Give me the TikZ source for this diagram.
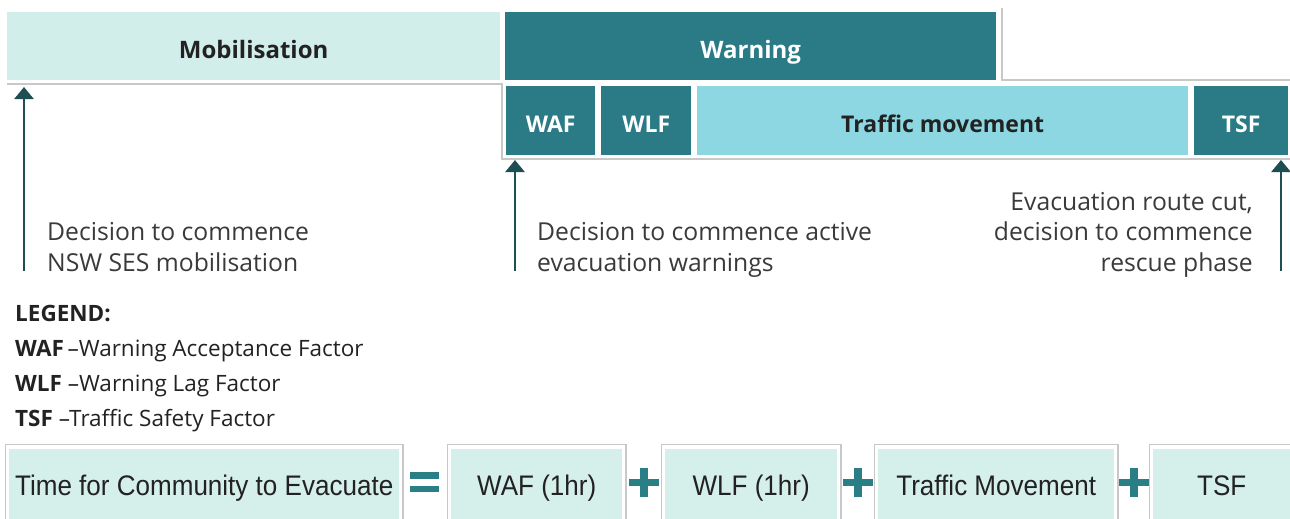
\documentclass[tikz,border=0pt]{standalone}
\usepackage{fontspec}
\setmainfont{Open Sans}
\newfontfamily\condfont[FakeStretch=0.92]{Liberation Sans}
\usetikzlibrary{arrows.meta,calc}

\definecolor{mobfill}{HTML}{D2EEEA}
\definecolor{warnteal}{HTML}{2B7B87}
\definecolor{trafficfill}{HTML}{8CD7E2}
\definecolor{arrowdark}{HTML}{1D4F52}
\definecolor{framegray}{HTML}{C8C8C8}
\definecolor{sumfill}{HTML}{D5EFEA}
\definecolor{bodytext}{HTML}{3A3A3A}
\definecolor{inktext}{HTML}{222222}
\definecolor{signteal}{HTML}{2A7F86}

\begin{document}
\begin{tikzpicture}[x=1pt,y=-1pt,
  phase/.style={inner sep=0pt, anchor=north west, minimum height=68pt,
    text height=24pt, text depth=0pt,
    font=\fontsize{24}{28}\selectfont\bfseries},
  darkphase/.style={phase, fill=warnteal, text=white},
  stage/.style={inner sep=0pt, anchor=north west, minimum height=69pt,
    text height=23.4pt, text depth=0pt,
    font=\fontsize{23}{28}\selectfont\bfseries},
  darkstage/.style={stage, fill=warnteal, text=white},
  frameline/.style={draw=framegray, line width=1.3pt},
  evarrow/.style={draw=arrowdark, line width=2.6pt,
    -{Triangle[width=19pt,length=12pt]}},
  desc/.style={inner sep=0pt, text=bodytext,
    font=\fontsize{24.7}{30.5}\selectfont},
  legendtext/.style={inner sep=0pt, anchor=north west, align=left, text=inktext,
    font=\fontsize{22.5}{35}\selectfont},
  sumbox/.style={inner sep=0pt, anchor=north west, fill=sumfill,
    minimum height=74pt, text=inktext, text height=20.3pt, text depth=0pt,
    font=\fontsize{28.3}{30}\condfont},
  sign/.style={fill=signteal}
]
\useasboundingbox[fill=white] (0,0) rectangle (1290,519);

% ---- phase bars ----
\node[phase, fill=mobfill, text=inktext, minimum width=493pt] (mob) at (7,12) {Mobilisation};
\node[darkphase, minimum width=491pt] (warn) at (505,12) {Warning};

% ---- stages of the warning phase ----
\node[darkstage, minimum width=89pt] (waf) at (506,86) {WAF};
\node[darkstage, minimum width=90pt] (wlf) at (601,86) {WLF};
\node[stage, fill=trafficfill, text=inktext, minimum width=491pt] (traffic) at (697,86) {Traffic movement};
\node[darkstage, minimum width=94pt] (tsf) at (1194,86) {TSF};

% ---- thin frame lines around the bars ----
\draw[frameline] (7,84) -- (502,84) -- (502,159) -- (1290,159);
\draw[frameline] (1002,8) -- (1002,80) -- (1290,80);

% ---- decision points ----
\coordinate (m0) at (24,271);  \coordinate (m1) at (24,87);
\coordinate (w0) at (515,271); \coordinate (w1) at (515,160);
\coordinate (r0) at (1281,271); \coordinate (r1) at (1281,160);
\draw[evarrow] (m0) -- (m1);
\draw[evarrow] (w0) -- (w1);
\draw[evarrow] (r0) -- (r1);

\node[desc, anchor=north west, align=left] (dmob) at (47,222.5)
  {Decision to commence\\NSW SES mobilisation};
\node[desc, anchor=north west, align=left] (dwarn) at (537,222.5)
  {Decision to commence active\\evacuation warnings};
\node[desc, anchor=north east, align=right] (dcut) at (1253,192)
  {Evacuation route cut,\\decision to commence\\rescue phase};

% ---- legend ----
\node[legendtext] (legend) at (15,305.5)
  {\textbf{LEGEND:}\\
   \textbf{WAF}\,–Warning Acceptance Factor\\
   \textbf{WLF} –Warning Lag Factor\\
   \textbf{TSF} –Traffic Safety Factor};

% ---- evacuation time sum ----
\node[sumbox, minimum width=390pt] (total) at (9,448.5) {Time for Community to Evacuate};
\node[sumbox, minimum width=171pt] (swaf) at (451,448.5) {WAF (1hr)};
\node[sumbox, minimum width=172pt] (swlf) at (665,448.5) {WLF (1hr)};
\node[sumbox, minimum width=236pt] (straffic) at (878,448.5) {Traffic Movement};
\node[sumbox, minimum width=137pt] (stsf) at (1153,448.5) {TSF};

\foreach \b in {total,swaf,swlf,straffic,stsf}{
  \draw[frameline] ($(\b.south west)+(-3.5,0)$) -- ($(\b.north west)+(-3.5,-4)$)
    -- ($(\b.north east)+(3.5,-4)$) -- ($(\b.south east)+(3.5,0)$);
}

% equals sign
\fill[sign] (410,472) rectangle (439,478.5);
\fill[sign] (410,485.5) rectangle (439,492);
% plus signs
\foreach \cx in {643.5,857.5,1133.5}{
  \fill[sign] (\cx-15,478.5) rectangle (\cx+15,485.5);
  \fill[sign] (\cx-4,467.5) rectangle (\cx+4,496.5);
}
\end{tikzpicture}
\end{document}
